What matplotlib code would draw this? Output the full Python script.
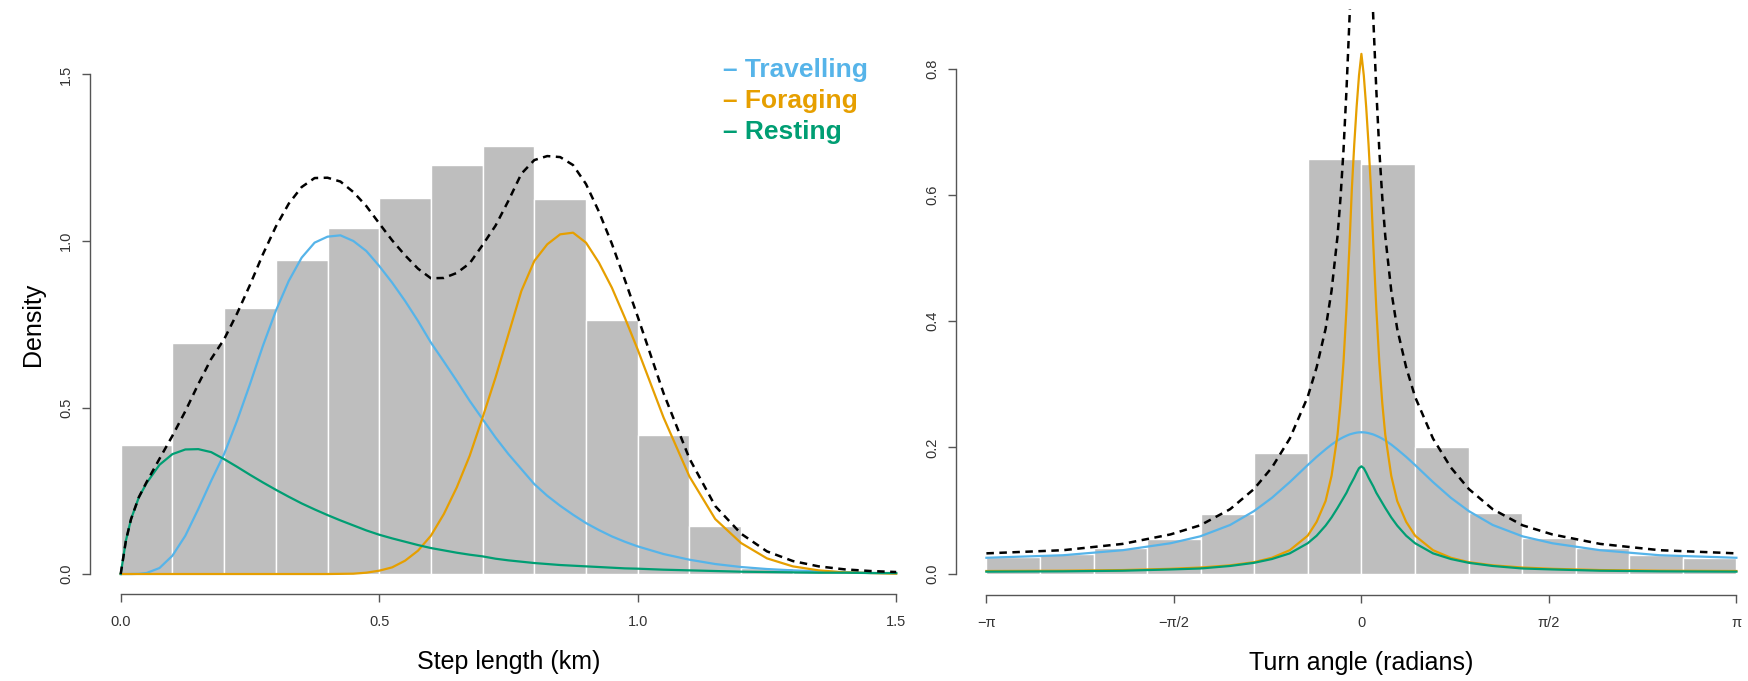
import numpy as np
import matplotlib.pyplot as plt

plt.rcParams['font.family'] = ['Liberation Sans', 'DejaVu Sans']

# ---- step length panel ----
step_edges = [0.0, 0.1, 0.2, 0.3, 0.4, 0.5, 0.6, 0.7, 0.8, 0.9, 1.0, 1.1, 1.2, 1.3, 1.4, 1.5]
step_density = [0.388, 0.695, 0.798, 0.943, 1.038, 1.128, 1.228, 1.286, 1.125, 0.764,
                0.418, 0.145, 0.018, 0.008, 0.004]

step_x = [0.0, 0.01, 0.02, 0.035, 0.05, 0.075,
          0.1, 0.125, 0.15, 0.175, 0.2, 0.225, 0.25, 0.275, 0.3, 0.325, 0.35, 0.375,
          0.4, 0.425, 0.45, 0.475, 0.5, 0.525, 0.55, 0.575, 0.6, 0.625, 0.65, 0.675,
          0.7, 0.725, 0.75, 0.775, 0.8, 0.825, 0.85, 0.875, 0.9, 0.925, 0.95, 0.975,
          1.0, 1.05, 1.1, 1.15, 1.2, 1.25, 1.3, 1.35, 1.4, 1.45, 1.5]
step_travel = [0.0, 0.0, 0.0, 0.0005, 0.003, 0.018,
               0.055, 0.115, 0.195, 0.28, 0.36, 0.46, 0.57, 0.685, 0.79, 0.88, 0.95, 0.995,
               1.013, 1.017, 1.0, 0.97, 0.925, 0.875, 0.82, 0.76, 0.695, 0.638, 0.58, 0.52,
               0.465, 0.41, 0.36, 0.315, 0.27, 0.235, 0.205, 0.178, 0.153, 0.132, 0.113, 0.097,
               0.083, 0.06, 0.043, 0.03, 0.021, 0.015, 0.011, 0.008, 0.005, 0.003, 0.002]
step_forage = [0.0, 0.0, 0.0, 0.0, 0.0, 0.0,
               0.0, 0.0, 0.0, 0.0, 0.0, 0.0, 0.0, 0.0, 0.0, 0.0, 0.0, 0.0,
               0.0, 0.0005, 0.001, 0.004, 0.01, 0.02, 0.04, 0.07, 0.115, 0.18, 0.26, 0.355,
               0.47, 0.59, 0.72, 0.85, 0.94, 0.99, 1.02, 1.025, 0.995, 0.935, 0.86, 0.77,
               0.674, 0.47, 0.293, 0.165, 0.093, 0.047, 0.023, 0.011, 0.005, 0.003, 0.001]
step_rest = [0.0, 0.10, 0.165, 0.23, 0.273, 0.328,
             0.36, 0.374, 0.375, 0.366, 0.345, 0.322, 0.298, 0.275, 0.253, 0.232, 0.212, 0.194,
             0.177, 0.161, 0.146, 0.131, 0.118, 0.107, 0.097, 0.087, 0.078, 0.071, 0.064, 0.058,
             0.053, 0.046, 0.041, 0.037, 0.033, 0.030, 0.027, 0.025, 0.023, 0.021, 0.019, 0.017,
             0.016, 0.013, 0.011, 0.009, 0.007, 0.006, 0.005, 0.004, 0.004, 0.003, 0.003]

# ---- turn angle panel ----
angle_density = [0.026, 0.031, 0.040, 0.054, 0.094, 0.191, 0.657,
                 0.649, 0.200, 0.096, 0.057, 0.040, 0.030, 0.025]

# fitted curves are symmetric about 0: values read for theta >= 0
angle_half = [0.0, 0.02, 0.04, 0.06, 0.08, 0.1, 0.125, 0.15, 0.175, 0.2, 0.25, 0.3,
              0.375, 0.45, 0.6, 0.75, 0.9, 1.1, 1.35, 1.6, 2.0, 2.5, np.pi]
angle_travel = [0.224, 0.2239, 0.2234, 0.2226, 0.2216, 0.2205, 0.2185, 0.2163, 0.2138, 0.211,
                0.2045, 0.197, 0.185, 0.172, 0.145, 0.12, 0.099, 0.077, 0.059, 0.048,
                0.037, 0.029, 0.025]
angle_forage = [0.824, 0.79, 0.74, 0.68, 0.61, 0.52, 0.42, 0.335, 0.27, 0.22,
                0.155, 0.115, 0.082, 0.06, 0.037, 0.025, 0.018, 0.013, 0.0095, 0.0075,
                0.0055, 0.0045, 0.004]
angle_rest = [0.17, 0.167, 0.16, 0.152, 0.145, 0.138, 0.128, 0.12, 0.112, 0.104,
              0.089, 0.076, 0.06, 0.048, 0.032, 0.023, 0.017, 0.012, 0.008, 0.0065,
              0.0045, 0.0035, 0.003]

states = ['Travelling', 'Foraging', 'Resting']
colors = ['#56B4E9', '#E69F00', '#009E73']

W, H = 1749, 681
fig = plt.figure(figsize=(W / 100, H / 100), dpi=100)


def r_axes(rect, xlim, ylim, xticks, yticks, xlabels, ylabels):
    ax = fig.add_axes(rect)
    ax.set_xlim(*xlim)
    ax.set_ylim(*ylim)
    for s in ['top', 'right']:
        ax.spines[s].set_visible(False)
    ax.spines['left'].set_bounds(yticks[0], yticks[-1])
    ax.spines['bottom'].set_bounds(xticks[0], xticks[-1])
    for s in ['left', 'bottom']:
        ax.spines[s].set_color('#555555')
        ax.spines[s].set_linewidth(1.0)
    ax.set_xticks(xticks)
    ax.set_xticklabels(xlabels)
    ax.set_yticks(yticks)
    ax.set_yticklabels(ylabels, rotation=90, va='center')
    ax.tick_params(length=6, width=1.0, color='#555555', labelcolor='#333333',
                   labelsize=10.5)
    ax.tick_params(axis='y', pad=6)
    ax.tick_params(axis='x', pad=9)
    return ax


def pix_rect(x0, x1, y_top, y_bot):
    return [x0 / W, 1 - y_bot / H, (x1 - x0) / W, (y_bot - y_top) / H]


# left panel
ax1 = r_axes(pix_rect(89.7, 927.2, 54.5, 594.0), (-0.06, 1.56), (-0.06, 1.56),
             [0, 0.5, 1.0, 1.5], [0, 0.5, 1.0, 1.5],
             ['0.0', '0.5', '1.0', '1.5'], ['0.0', '0.5', '1.0', '1.5'])
ax1.bar(step_edges[:-1], step_density, width=np.diff(step_edges), align='edge',
        color='#BEBEBE', edgecolor='white', linewidth=1.0)
for vals, c in zip([step_travel, step_forage, step_rest], colors):
    ax1.plot(step_x, vals, color=c, lw=1.6)
step_total = np.array(step_travel) + np.array(step_forage) + np.array(step_rest)
ax1.plot(step_x, step_total, color='black', lw=1.8, linestyle=(0, (3, 2.2)))
ax1.set_xlabel('Step length (km)', fontsize=18, labelpad=15)
ax1.set_ylabel('Density', fontsize=18, labelpad=10)

# right panel
angle_edges = np.linspace(-np.pi, np.pi, len(angle_density) + 1)
ax2 = r_axes(pix_rect(956.4, 1766.4, 9.4, 595.3),
             (-np.pi - 0.2513, np.pi + 0.2513), (-0.0345, 0.8945),
             [-np.pi, -np.pi / 2, 0, np.pi / 2, np.pi], [0, 0.2, 0.4, 0.6, 0.8],
             ['\u2212\u03c0', '\u2212\u03c0/2', '0', '\u03c0/2', '\u03c0'],
             ['0.0', '0.2', '0.4', '0.6', '0.8'])
ax2.bar(angle_edges[:-1], angle_density, width=np.diff(angle_edges), align='edge',
        color='#BEBEBE', edgecolor='white', linewidth=1.0)
theta = np.concatenate([-np.array(angle_half[::-1]), np.array(angle_half[1:])])
mirror = lambda v: np.concatenate([np.array(v[::-1]), np.array(v[1:])])
for vals, c in zip([angle_travel, angle_forage, angle_rest], colors):
    ax2.plot(theta, mirror(vals), color=c, lw=1.6)
angle_total = mirror(angle_travel) + mirror(angle_forage) + mirror(angle_rest)
ax2.plot(theta, angle_total, color='black', lw=1.8, linestyle=(0, (3, 2.2)))
ax2.set_xlabel('Turn angle (radians)', fontsize=18, labelpad=15)

# legend as coloured text
for i, (s, c) in enumerate(zip(states, colors)):
    fig.text(723 / W, 1 - (77 + 31 * i) / H, '\u2013 ' + s, color=c,
             fontsize=19, fontweight='bold', va='baseline', ha='left')

fig.savefig('out.png', dpi=100)
